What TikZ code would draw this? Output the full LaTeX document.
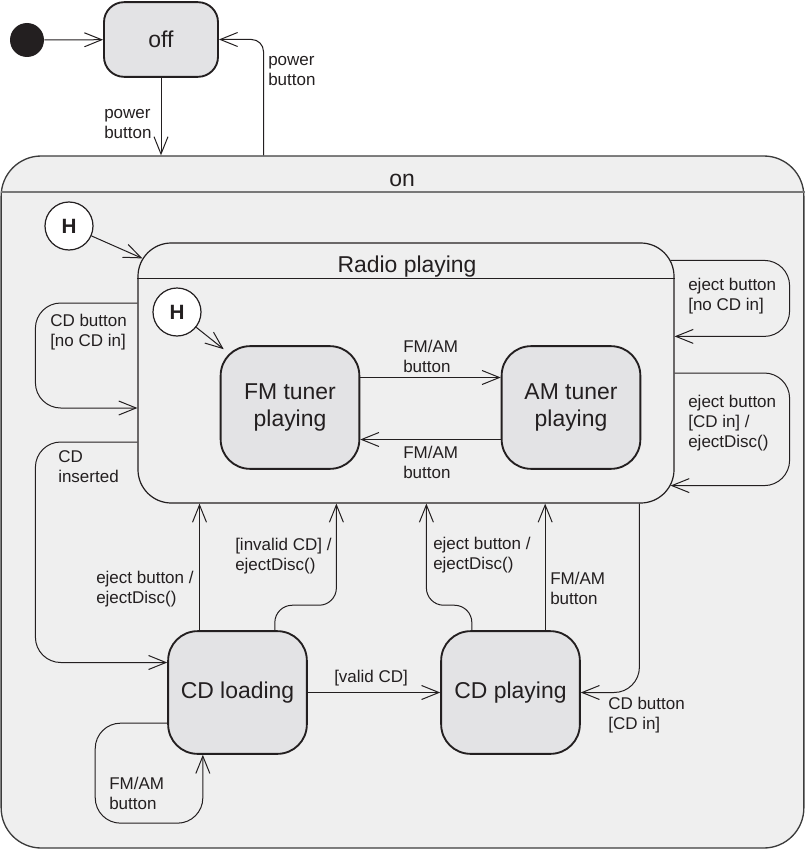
\documentclass[tikz,border=0pt]{standalone}
\usepackage{fontspec}
\setmainfont{Liberation Sans}
\usetikzlibrary{arrows.meta, positioning, calc}
\definecolor{statefill}{RGB}{227,227,229}
\definecolor{compositefill}{RGB}{239,239,239}
\definecolor{inkcol}{RGB}{35,31,32}
\definecolor{framecol}{RGB}{60,60,60}
\definecolor{dividercol}{RGB}{120,120,120}

\begin{document}
\begin{tikzpicture}[
    x=0.75pt, y=-0.75pt,
    font=\fontsize{12.75}{15}\selectfont, text=inkcol,
    statebox/.style={draw=inkcol, line width=1.4pt, fill=statefill, rounded corners=22pt, minimum width=104pt, minimum height=92pt, align=center, font=\fontsize{17.2}{20.5}\selectfont},
    composite/.style={draw=framecol, line width=1pt, fill=compositefill},
    hist/.style={circle, draw=inkcol, line width=0.9pt, fill=white, minimum size=36pt, inner sep=0pt, font=\fontsize{15.5}{18}\selectfont\bfseries},
    trans/.style={draw=inkcol, line width=0.75pt, -{Straight Barb[length=13pt, width=10.5pt]}},
    loopline/.style={trans, rounded corners=19pt},
    lbl/.style={anchor=base west, align=left, inner sep=0pt},
    ttl/.style={anchor=base, font=\fontsize{17.2}{20.5}\selectfont}
]
    \useasboundingbox (0,0) rectangle (805,849);

    % Composite state on
    \node[composite, rounded corners=30pt, minimum width=602pt, minimum height=519pt] (on) at (402.5,502) {};
    \node[ttl] (onTitle) at (402,186) {on};
    \draw[dividercol, line width=1.3pt] ([yshift=-27.75pt]on.north west) -- ([yshift=-27.75pt]on.north east);

    % Initial and off
    \node[circle, fill=inkcol, minimum size=25.5pt, inner sep=0pt] (init) at (27,40) {};
    \node[statebox, rounded corners=15pt, minimum width=85.5pt, minimum height=56pt] (off) at (161,39.5) {off};
    \draw[trans] (init) -- (off);
    \draw[trans] (off) -- (off |- on.north);
    \draw[trans, rounded corners=9pt] ($(on.north west)+(263,0)$) |- (off.east);
    \node[lbl] (lPwrOn) at (104,138) {power\\button};
    \node[lbl] (lPwrOff) at (268,85) {power\\button};

    % Composite state Radio playing
    \node[composite, draw=inkcol, line width=0.9pt, rounded corners=25pt, minimum width=402pt, minimum height=195pt] (radio) at (406,373) {};
    \node[ttl] (radioTitle) at (407,272) {Radio playing};
    \draw[inkcol, line width=0.8pt] ([yshift=-27pt]radio.north west) -- ([yshift=-27pt]radio.north east);

    % History states
    \node[hist] (hOn) at (69,226) {H};
    \node[hist] (hRadio) at (177,312) {H};

    % States
    \node[statebox] (fm) at (290,407.5) {FM tuner\\playing};
    \node[statebox] (am) at (571,407.5) {AM tuner\\playing};
    \node[statebox] (cdl) at (237.5,692.5) {CD loading};
    \node[statebox] (cdp) at (510.5,692.5) {CD playing};

    % Transitions inside Radio playing
    \draw[trans] (hOn) -- ($(radio.north west)+(5,16)$);
    \draw[trans] (hRadio) -- ($(fm.north west)+(4,4)$);
    \draw[trans] ([yshift=22.5pt]fm.east) -- ([yshift=22.5pt]am.west);
    \draw[trans] ([yshift=-24pt]am.west) -- ([yshift=-24pt]fm.east);
    \node[lbl] (lFmAm) at (403,372) {FM/AM\\button};
    \node[lbl] (lAmFm) at (403,478) {FM/AM\\button};

    % Self transitions of Radio playing
    \draw[loopline] ($(radio.north east)+(-4,18)$) -- ++(119,0) |- ($(radio.north east)+(0,94)$);
    \draw[loopline] (radio.east) -- ++(115,0) |- ($(radio.south east)+(-4,-18)$);
    \draw[loopline] ($(radio.west)+(0,-70)$) -- ++(-102,0) |- ($(radio.west)+(0,35)$);
    \node[lbl] (lEjNo) at (688,310) {eject button\\{}[no CD in]};
    \node[lbl] (lEjIn) at (688,447) {eject button\\{}[CD in] /\\ejectDisc()};
    \node[lbl] (lCdNo) at (50,346) {CD button\\{}[no CD in]};

    % Radio playing to CD states
    \draw[loopline] ($(radio.west)+(0,69)$) -- ++(-102,0) |- ($(cdl.west)+(0,-30)$);
    \draw[loopline] ($(radio.south west)+(502,0)$) |- (cdp.east);
    \node[lbl] (lCdIns) at (58,482) {CD\\inserted};
    \node[lbl] (lCdIn) at (608,729) {CD button\\{}[CD in]};

    % CD states back to Radio playing
    \coordinate (ejL) at ([xshift=-28.5pt]cdl.north);
    \coordinate (invL) at ([xshift=28pt]cdl.north);
    \coordinate (ejP) at ([xshift=-29pt]cdp.north);
    \coordinate (fmP) at ([xshift=26pt]cdp.north);
    \draw[trans] (ejL) -- (ejL |- radio.south);
    \draw[trans, rounded corners=13pt] (invL) -- ++(0,-25) -| ($(radio.south west)+(199,0)$);
    \draw[trans, rounded corners=13pt] (ejP) -- ++(0,-25) -| ($(radio.south west)+(289,0)$);
    \draw[trans] (fmP) -- (fmP |- radio.south);
    \node[lbl] (lEjL) at (96,603) {eject button /\\ejectDisc()};
    \node[lbl] (lInv) at (235,570) {[invalid CD] /\\ejectDisc()};
    \node[lbl] (lEjP) at (433,569) {eject button /\\ejectDisc()};
    \node[lbl] (lFmP) at (550,604) {FM/AM\\button};

    % CD loading transitions
    \draw[trans] (cdl) -- (cdp);
    \node[lbl] (lValid) at (334,682) {[valid CD]};
    \draw[loopline] ([yshift=-23pt]cdl.west) -| ++(-72,100) -| ([xshift=-26pt]cdl.south);
    \node[lbl] (lLoop) at (109,809) {FM/AM\\button};
\end{tikzpicture}
\end{document}
